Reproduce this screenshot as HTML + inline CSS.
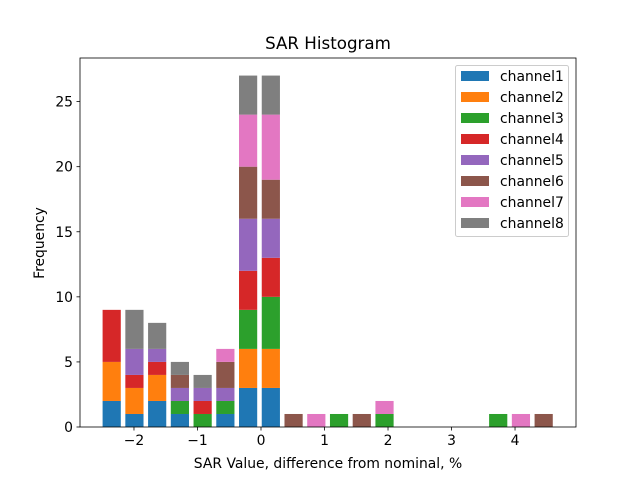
<!DOCTYPE html>
<html><head><meta charset="utf-8"><style>
body{margin:0;background:#fff}
svg text{font-family:"DejaVu Sans","Liberation Sans",sans-serif}
</style></head><body>
<svg id="chart" width="640" height="480" xmlns="http://www.w3.org/2000/svg">
<rect width="640" height="480" fill="#fff"/>
<text x="328" y="49" font-size="16.7" text-anchor="middle">SAR Histogram</text>
<g id="bars"></g>
<g id="axes"></g>
<g id="legend"></g>
<text x="328" y="468" font-size="13.9" text-anchor="middle">SAR Value, difference from nominal, %</text>
<text x="44" y="243" font-size="13.9" text-anchor="middle" transform="rotate(-90 44 243)">Frequency</text>
</svg>
<script>
const binStart = -2.53;
const binWidth = 0.358;
const channels = ["channel1","channel2","channel3","channel4","channel5","channel6","channel7","channel8"];
const colors = ["#1f77b4","#ff7f0e","#2ca02c","#d62728","#9467bd","#8c564b","#e377c2","#7f7f7f"];
const ch1 = [2,1,2,1,0,1,3,3,0,0,0,0,0,0,0,0,0,0,0,0];
const ch2 = [3,2,2,0,0,0,3,3,0,0,0,0,0,0,0,0,0,0,0,0];
const ch3 = [0,0,0,1,1,1,3,4,0,0,1,0,1,0,0,0,0,1,0,0];
const ch4 = [4,1,1,0,1,0,3,3,0,0,0,0,0,0,0,0,0,0,0,0];
const ch5 = [0,2,1,1,1,1,4,3,0,0,0,0,0,0,0,0,0,0,0,0];
const ch6 = [0,0,0,1,0,2,4,3,1,0,0,1,0,0,0,0,0,0,0,1];
const ch7 = [0,0,0,0,0,1,4,5,0,1,0,0,1,0,0,0,0,0,1,0];
const ch8 = [0,3,2,1,1,0,3,3,0,0,0,0,0,0,0,0,0,0,0,0];
const series = [ch1,ch2,ch3,ch4,ch5,ch6,ch7,ch8];
const xTicks = [-2,-1,0,1,2,3,4];
const xTickLabels = ["\u22122","\u22121","0","1","2","3","4"];
const yTicks = [0,5,10,15,20,25];

const NS="http://www.w3.org/2000/svg";
const L=80,R=576,T=58,B=427;
const xMin=-2.85, xMax=4.96, yMax=28.35;
const xs=v=>L+(v-xMin)/(xMax-xMin)*(R-L);
const ys=v=>B-v/yMax*(B-T);
function mk(tag,attrs,parent){const e=document.createElementNS(NS,tag);for(const k in attrs)e.setAttribute(k,attrs[k]);parent.appendChild(e);return e;}
const bars=document.getElementById('bars');
const nb=ch1.length;
for(let i=0;i<nb;i++){
  let base=0;
  const c=binStart+binWidth*(i+0.5);
  const x0=xs(c-binWidth*0.4), x1=xs(c+binWidth*0.4);
  for(let s=0;s<series.length;s++){
    const v=series[s][i];
    if(v>0){
      const r=mk('rect',{x:x0,y:ys(base+v),width:x1-x0,height:ys(base)-ys(base+v),fill:colors[s]},bars);
      
      
    }
    base+=v;
  }
}
const axes=document.getElementById('axes');
mk('rect',{x:L,y:T,width:R-L,height:B-T,fill:'none',stroke:'#000','stroke-width':0.8},axes);
xTicks.forEach((t,i)=>{
  const x=xs(t);
  mk('line',{x1:x,x2:x,y1:B,y2:B+3.5,stroke:'#000','stroke-width':0.8},axes);
  const tx=mk('text',{x:x,y:B+18,'font-size':13.9,'text-anchor':'middle'},axes);
  tx.textContent=xTickLabels[i];
  
  
});
yTicks.forEach(t=>{
  const y=ys(t);
  mk('line',{x1:L-3.5,x2:L,y1:y,y2:y,stroke:'#000','stroke-width':0.8},axes);
  const tx=mk('text',{x:L-7,y:y+5,'font-size':13.9,'text-anchor':'end'},axes);
  tx.textContent=t;
  
  
});
const lg=document.getElementById('legend');
mk('rect',{x:455.5,y:65.5,width:113,height:171,rx:2,fill:'#fff',stroke:'#ccc','stroke-width':1},lg);
channels.forEach((n,i)=>{
  const y=76+i*21;
  const g=mk('g',{},lg);
  
  
  mk('rect',{x:461,y:y-5,width:28,height:10,fill:colors[i]},g);
  const tx=mk('text',{x:500,y:y+5,'font-size':13.9},g);
  tx.textContent=n;
});
</script>
</body></html>
